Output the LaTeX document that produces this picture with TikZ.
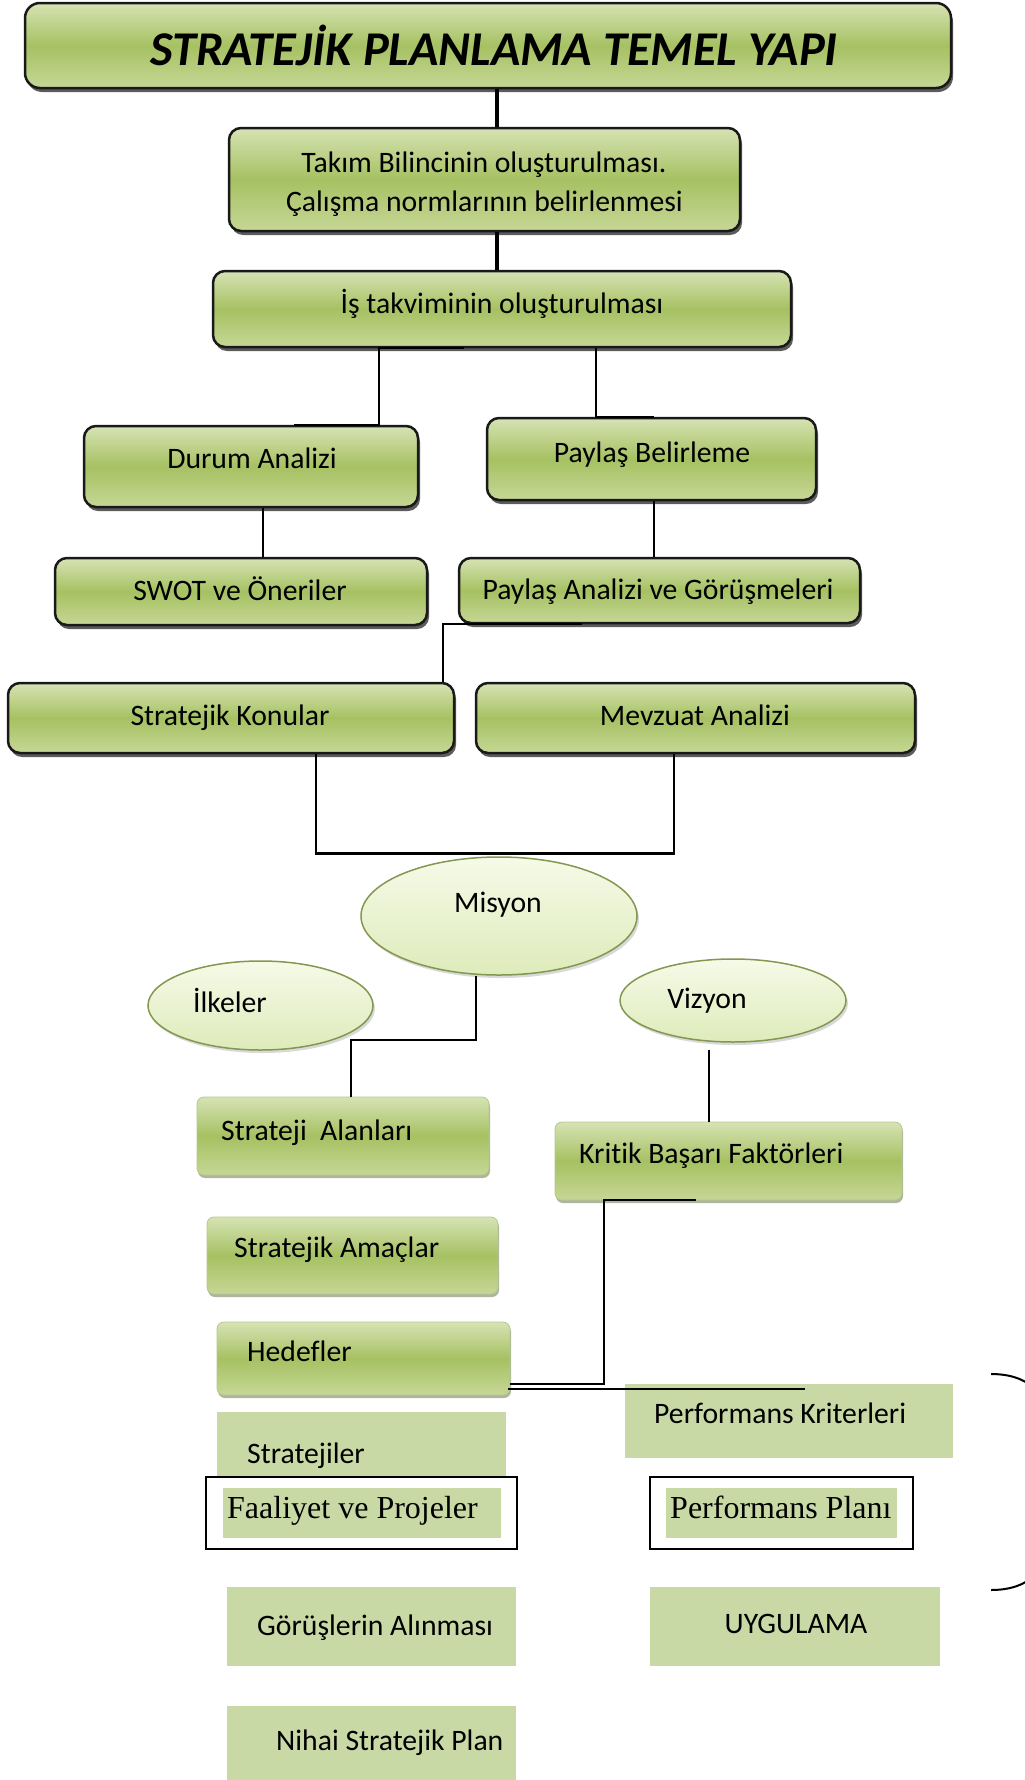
\documentclass[tikz,border=0pt]{standalone}
\usepackage{fontspec}
\setmainfont{Carlito}[Ligatures=CommonOff]
\newfontfamily\tnrfont{Liberation Serif}
\usetikzlibrary{shadows,shapes.geometric}
\definecolor{gtop}{RGB}{214,227,180}
\definecolor{gmid}{RGB}{166,193,98}
\definecolor{gbot}{RGB}{198,215,150}
\definecolor{flatg}{RGB}{201,217,165}
\definecolor{etop}{RGB}{246,250,232}
\definecolor{ebot}{RGB}{222,235,186}
\definecolor{eline}{RGB}{130,152,80}
\definecolor{softline}{RGB}{180,200,140}
\definecolor{softshadow}{RGB}{120,132,95}
\tikzset{
  strongbox/.style={rectangle, rounded corners=12pt, draw=black!90, line width=2.5pt,
    top color=gtop, bottom color=gbot, middle color=gmid, inner sep=0pt,
    drop shadow={shadow xshift=2pt, shadow yshift=-4pt, fill=black!75, opacity=0.85}},
  softbox/.style={rectangle, rounded corners=7pt, draw=softline, line width=0.8pt,
    top color=gtop, bottom color=gbot, middle color=gmid, inner sep=0pt,
    drop shadow={shadow xshift=1pt, shadow yshift=-3pt, fill=softshadow, opacity=0.6}},
  flatbox/.style={rectangle, fill=flatg, draw=none, inner sep=0pt},
  framebox/.style={rectangle, draw=black, line width=2pt, fill=white, inner sep=0pt},
  ellbox/.style={ellipse, draw=eline, line width=1.5pt, top color=etop, bottom color=ebot,
    inner sep=0pt, drop shadow={shadow xshift=2pt, shadow yshift=-3pt, fill=black!25, opacity=0.6}},
  txt/.style={inner sep=0pt, font=\fontsize{29.7}{35}\selectfont},
  serif/.style={inner sep=0pt, font=\tnrfont\fontsize{32}{38}\selectfont},
  conn/.style={line width=2pt, black},
  thickconn/.style={line width=4.5pt, black},
}
\begin{document}
\begin{tikzpicture}[x=1pt, y=-1pt]
\useasboundingbox (0,0) rectangle (1025,1780);
\clip (0,0) rectangle (1025,1780);

% ---------- upper boxes ----------
\node[strongbox, rounded corners=15pt, minimum width=926pt, minimum height=85pt] (title) at (488,45.5) {};
\node[anchor=base, inner sep=0pt, font=\fontsize{48.5}{56}\selectfont\bfseries\itshape] (titleT) at (494,65) {STRATEJİK PLANLAMA TEMEL YAPI};

\node[strongbox, minimum width=511pt, minimum height=103pt] (takim) at (484.5,179.5) {};
\node[txt, anchor=base] (takimT1) at (484,172) {Takım Bilincinin oluşturulması.};
\node[txt, anchor=base] (takimT2) at (484.5,211) {Çalışma normlarının belirlenmesi};

\node[strongbox, minimum width=578pt, minimum height=76pt] (is) at (502,309) {};
\node[txt, anchor=base] (isT) at (502,313) {İş takviminin oluşturulması};

\node[strongbox, minimum width=334pt, minimum height=81pt] (durum) at (251,466.5) {};
\node[txt, anchor=base] (durumT) at (252,468) {Durum Analizi};

\node[strongbox, minimum width=329pt, minimum height=82pt] (paylasB) at (651.5,459) {};
\node[txt, anchor=base] (paylasBT) at (652,462) {Paylaş Belirleme};

\node[strongbox, minimum width=372pt, minimum height=67pt] (swot) at (241,591.5) {};
\node[txt, anchor=base] (swotT) at (240,600) {SWOT ve Öneriler};

\node[strongbox, minimum width=401pt, minimum height=65pt] (paylasA) at (659.5,590.5) {};
\node[txt, anchor=base] (paylasAT) at (658,599) {Paylaş Analizi ve Görüşmeleri};

\node[strongbox, minimum width=446pt, minimum height=70pt] (stratK) at (231,718) {};
\node[txt, anchor=base] (stratKT) at (230,725) {Stratejik Konular};

\node[strongbox, minimum width=439pt, minimum height=70pt] (mevzuat) at (695.5,718) {};
\node[txt, anchor=base] (mevzuatT) at (695,725) {Mevzuat Analizi};

% ---------- ellipses ----------
\node[ellbox, minimum width=276pt, minimum height=118pt] (misyon) at (499,916) {};
\node[txt, anchor=base] (misyonT) at (498,912) {Misyon};

\node[ellbox, minimum width=225pt, minimum height=89pt] (ilkeler) at (260.5,1005.5) {};
\node[txt, anchor=base west] (ilkelerT) at (193,1012) {İlkeler};

\node[ellbox, minimum width=226pt, minimum height=83pt] (vizyon) at (733,1000.5) {};
\node[txt, anchor=base] (vizyonT) at (707,1008) {Vizyon};

% ---------- soft boxes ----------
\node[softbox, minimum width=292pt, minimum height=78pt] (stratejiAlan) at (343,1136) {};
\node[txt, anchor=base west] (stratejiAlanT) at (221,1140) {Strateji\ \ Alanları};

\node[softbox, minimum width=347pt, minimum height=78pt] (kritik) at (728.5,1161) {};
\node[txt, anchor=base west] (kritikT) at (579,1163) {Kritik Başarı Faktörleri};

\node[softbox, minimum width=291pt, minimum height=77pt] (amaclar) at (352.5,1255.5) {};
\node[txt, anchor=base west] (amaclarT) at (234,1257) {Stratejik Amaçlar};

\node[softbox, minimum width=293pt, minimum height=73pt] (hedefler) at (363.5,1358.5) {};
\node[txt, anchor=base west] (hedeflerT) at (247,1361) {Hedefler};

% ---------- flat boxes ----------
\node[flatbox, minimum width=328pt, minimum height=74pt] (perfK) at (789,1421) {};
\node[txt, anchor=base west] (perfKT) at (654,1423) {Performans Kriterleri};

\node[flatbox, minimum width=289pt, minimum height=65pt] (stratejiler) at (361.5,1444.5) {};
\node[txt, anchor=base west] (stratejilerT) at (247,1463) {Stratejiler};

\node[framebox, minimum width=311pt, minimum height=72pt] (faaliyetF) at (361.5,1513) {};
\node[flatbox, minimum width=278pt, minimum height=50pt] (faaliyet) at (362,1513) {};
\node[serif, anchor=base west] (faaliyetT) at (227,1518) {Faaliyet ve Projeler};

\node[framebox, minimum width=263pt, minimum height=72pt] (perfPlanF) at (781.5,1513) {};
\node[flatbox, minimum width=231pt, minimum height=50pt] (perfPlan) at (781.5,1513) {};
\node[serif, anchor=base west] (perfPlanT) at (670,1518) {Performans Planı};

\node[flatbox, minimum width=289pt, minimum height=79pt] (gorusler) at (371.5,1626.5) {};
\node[txt, anchor=base west] (goruslerT) at (257,1635) {Görüşlerin Alınması};

\node[flatbox, minimum width=290pt, minimum height=79pt] (uygulama) at (795,1626.5) {};
\node[txt, anchor=base] (uygulamaT) at (796,1633) {UYGULAMA};

\node[flatbox, minimum width=289pt, minimum height=76pt] (nihai) at (371.5,1744) {};
\node[txt, anchor=base west] (nihaiT) at (276,1750) {Nihai Stratejik Plan};

% ---------- connectors ----------
\coordinate (c1) at ([xshift=9pt]title.south);
\draw[thickconn] (c1) -- (c1 |- takim.north);
\coordinate (c2) at ([xshift=12.5pt]takim.south);
\draw[thickconn] (c2) -- (c2 |- is.north);

\coordinate (c3a) at ([xshift=-38pt]is.south);
\coordinate (c3b) at ([xshift=-123pt]is.south);
\draw[conn] (c3a) -- (c3b) -- (c3b |- durum.north) -- (durum.north -| 294,0);

\coordinate (c4) at ([xshift=94pt]is.south);
\draw[conn] (c4) -- (c4 |- paylasB.north) -- ([xshift=2.5pt]paylasB.north);

\coordinate (c5) at ([xshift=12pt]durum.south);
\draw[conn] (c5) -- (c5 |- swot.north);

\coordinate (c6) at ([xshift=2.5pt]paylasB.south);
\draw[conn] (c6) -- (c6 |- paylasA.north);

\coordinate (c7a) at ([xshift=-77.5pt]paylasA.south);
\coordinate (c7b) at ([xshift=-216.5pt]paylasA.south);
\draw[conn] (c7a) -- (c7b) -- (c7b |- stratK.north);

\coordinate (c8a) at ([xshift=85pt]stratK.south);
\coordinate (c8b) at ([xshift=-21.5pt]mevzuat.south);
\draw[line width=2.5pt] (c8a) -- ++(0,99) -| (c8b);

\coordinate (c9a) at ([xshift=-23pt]misyon.south);
\coordinate (c9b) at ([xshift=8pt]stratejiAlan.north);
\draw[conn] (c9a) -- ++(0,64) -| (c9b);

\coordinate (vz) at (709,1050);
\draw[conn] (vz) -- (vz |- kritik.north);

\coordinate (c11a) at ([xshift=-32.5pt]kritik.south);
\coordinate (c11b) at ([xshift=-124.5pt]kritik.south);
\coordinate (hk) at ([yshift=-25.5pt]hedefler.east);
\draw[conn] (c11a) -- (c11b) -- (c11b |- hk) -- (hk);

\coordinate (hf) at ([xshift=-2pt,yshift=-30.5pt]hedefler.east);
\coordinate (fe) at (805,1389);
\draw[conn] (hf) -- (fe);

% ---------- right bracket ----------
\draw[line width=2pt] (991,1374) .. controls (1015,1374) and (1032,1382) .. (1042,1398)
  -- (1042,1566) .. controls (1032,1582) and (1015,1590) .. (991,1590);
\end{tikzpicture}
\end{document}
